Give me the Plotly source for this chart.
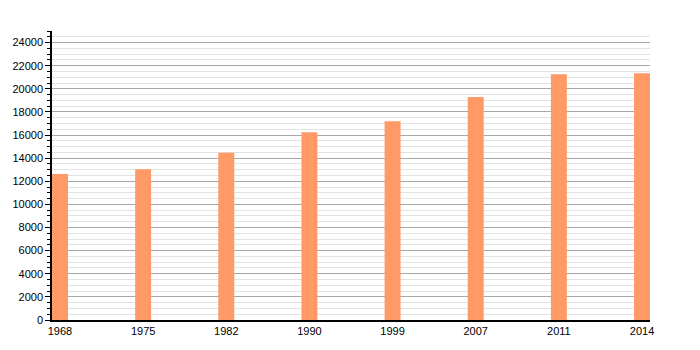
import plotly.graph_objects as go

years = ["1968", "1975", "1982", "1990", "1999", "2007", "2011", "2014"]
population = [12620, 13050, 14460, 16250, 17200, 19300, 21260, 21350]
y_ticks = list(range(0, 25000, 2000))
y_labels = [str(v) for v in y_ticks]

bar_w = 0.192
fig = go.Figure()
fig.add_trace(go.Bar(
    x=list(range(len(years))), y=population, width=bar_w,
    marker=dict(color="#ff9966", line=dict(width=0)),
))

fig.update_layout(
    width=700, height=350,
    margin=dict(l=50, r=50, t=31, b=30),
    paper_bgcolor="white", plot_bgcolor="white",
    showlegend=False,
    font=dict(family="Liberation Sans, Arial, sans-serif", size=11, color="#000"),
    xaxis=dict(
        range=[-bar_w / 2, len(years) - 1 + bar_w / 2],
        tickmode="array", tickvals=list(range(len(years))), ticktext=years,
        showgrid=False, zeroline=False,
        showline=True, linecolor="black", linewidth=1.5,
        ticks="", fixedrange=True,
    ),
    yaxis=dict(
        range=[0, 25000],
        tickmode="array", tickvals=y_ticks, ticktext=y_labels,
        showgrid=True, gridcolor="#a8a8a8", gridwidth=1,
        zeroline=False,
        showline=True, linecolor="black", linewidth=1.5,
        ticks="outside", ticklen=5, tickcolor="black", tickwidth=1,
        minor=dict(dtick=500, tick0=0, showgrid=True, gridcolor="#e2e2e2",
                   ticks="outside", ticklen=3, tickcolor="black", tickwidth=1),
    ),
)

fig.write_html("out.html")
